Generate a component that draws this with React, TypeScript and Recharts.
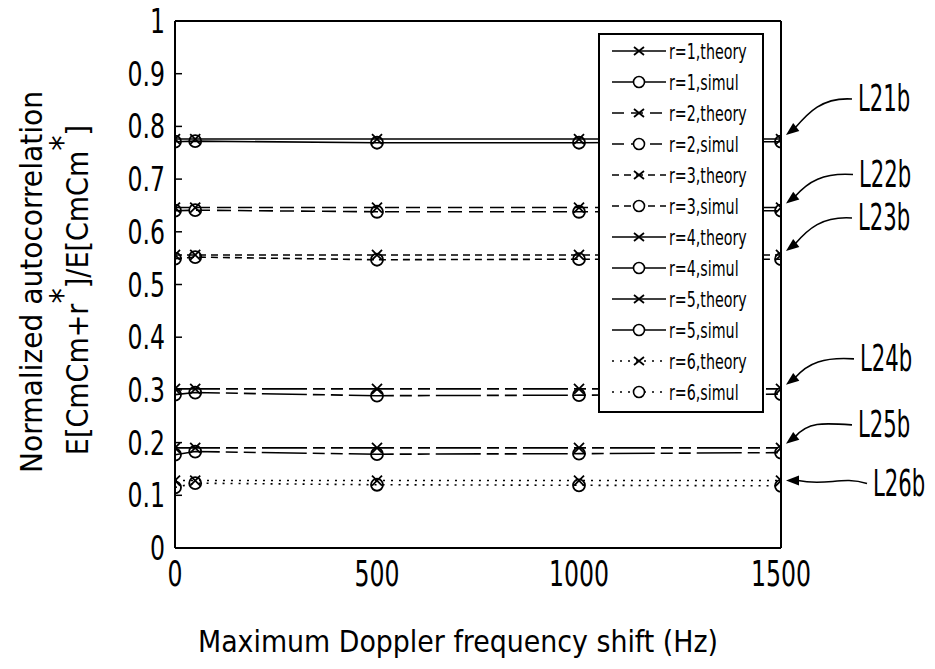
import React from 'react';
import {
  LineChart,
  Line,
  XAxis,
  YAxis,
  ReferenceLine,
  ReferenceDot,
} from 'recharts';

// ---------- data ----------
const freqs = [0, 50, 500, 1000, 1500];
const r1Theory = [0.776, 0.776, 0.776, 0.776, 0.776];
const r1Simul = [0.771, 0.772, 0.769, 0.769, 0.771];
const r2Theory = [0.646, 0.646, 0.646, 0.646, 0.646];
const r2Simul = [0.64, 0.641, 0.638, 0.638, 0.64];
const r3Theory = [0.556, 0.556, 0.556, 0.556, 0.556];
const r3Simul = [0.549, 0.552, 0.547, 0.548, 0.548];
const r4Theory = [0.302, 0.302, 0.302, 0.302, 0.302];
const r4Simul = [0.291, 0.295, 0.289, 0.29, 0.292];
const r5Theory = [0.19, 0.19, 0.19, 0.19, 0.19];
const r5Simul = [0.177, 0.183, 0.178, 0.179, 0.181];
const r6Theory = [0.128, 0.128, 0.128, 0.128, 0.128];
const r6Simul = [0.115, 0.123, 0.12, 0.119, 0.118];

const xTicks = [0, 500, 1000, 1500];
const yTicks = [0, 0.1, 0.2, 0.3, 0.4, 0.5, 0.6, 0.7, 0.8, 0.9, 1];

const seriesNames = [
  'r=1,theory', 'r=1,simul', 'r=2,theory', 'r=2,simul', 'r=3,theory', 'r=3,simul',
  'r=4,theory', 'r=4,simul', 'r=5,theory', 'r=5,simul', 'r=6,theory', 'r=6,simul',
];
const seriesValues = [
  r1Theory, r1Simul, r2Theory, r2Simul, r3Theory, r3Simul,
  r4Theory, r4Simul, r5Theory, r5Simul, r6Theory, r6Simul,
];
const annotationLabels = ['L21b', 'L22b', 'L23b', 'L24b', 'L25b', 'L26b'];
const annotationValues = [r1Theory[4], r2Theory[4], r3Theory[4], r4Theory[4], r5Theory[4], r6Theory[4]];

// ---------- styles ----------
const FONT = "'Liberation Sans Narrow', 'DejaVu Sans Condensed', 'Liberation Sans', 'DejaVu Sans', sans-serif";
const NARROW: React.CSSProperties = { fontStretch: 'condensed' };
const dashes = ['', '', '14 7', '14 7', '7 5', '7 5', '45 6 12 6 12 6', '45 6 12 6 12 6', '45 6 12 6 12 6', '45 6 12 6 12 6', '2 6', '2 6'];
const legendDashes = ['', '', '12 7', '12 7', '7 5', '7 5', '', '', '', '', '2 6', '2 6'];
// label offsets relative to the pointed-at point (text start dx, text center dy)
const annDx = [77, 78, 77, 79, 77, 92];
const annDy = [-42, -35, -39, -32, -25, 1];

const data = freqs.map((f, i) => {
  const row: Record<string, number> = { f };
  seriesNames.forEach((n, k) => { row[n] = seriesValues[k][i]; });
  return row;
});

const numLen = (s: string, digit: number) =>
  s.split('').reduce((a, c) => a + (c === '.' ? digit * 0.5 : digit), 0);

const XMark = (props: any) => {
  const { cx, cy } = props;
  if (cx == null || cy == null) return null;
  const s = 5;
  return (
    <path d={`M${cx - s},${cy - s}L${cx + s},${cy + s}M${cx - s},${cy + s}L${cx + s},${cy - s}`} stroke="#000" strokeWidth={1.8} fill="none" />
  );
};
const OMark = (props: any) => {
  const { cx, cy } = props;
  if (cx == null || cy == null) return null;
  return <circle cx={cx} cy={cy} r={6} stroke="#000" strokeWidth={1.8} fill="none" />;
};

const LegendBox = () => (
  <div style={{ position: 'absolute', left: 598, top: 33, width: 166, height: 380, border: '2px solid #000', background: '#fff', boxSizing: 'border-box' }}>
    <svg width={162} height={376} style={{ display: 'block' }}>
      {seriesNames.map((n, i) => {
        const y = 16 + i * 31;
        const theory = i % 2 === 0;
        return (
          <g key={n}>
            <line x1={12} x2={66} y1={y} y2={y} stroke="#000" strokeWidth={1.6} strokeDasharray={legendDashes[i] || undefined} />
            {theory ? (
              <path d={`M${34},${y - 4}L${44},${y + 4}M${34},${y + 4}L${44},${y - 4}`} stroke="#000" strokeWidth={1.8} />
            ) : (
              <circle cx={39} cy={y} r={5.5} stroke="#000" strokeWidth={1.6} fill="#fff" />
            )}
            <text transform={`translate(69,${y + 8}) scale(0.72,1)`} fontFamily={FONT} fontSize={22} fill="#000" style={NARROW}>{n}</text>
          </g>
        );
      })}
    </svg>
  </div>
);

const makeAnnotation = (k: number) => (props: any) => {
  const { cx, cy } = props;
  if (cx == null || cy == null) return null;
  const tx = cx + annDx[k];
  const ty = cy + annDy[k];
  const ex = cx + 5;
  const ey = k === 5 ? cy : cy - 4;
  const sx = tx - 6;
  const sy = ty + 2;
  const hx = ex + (k === 5 ? 12 : 9);
  const hy = k === 5 ? ey : ey - 7;
  const d = k === 5
    ? `M${sx},${sy} C${sx - 25},${sy - 8} ${sx - 40},${ey + 6} ${hx},${hy}`
    : `M${sx},${sy} C${sx - 30},${sy - 2} ${ex + 22},${ey - 22} ${hx},${hy}`;
  const ang = Math.atan2(ey - hy, ex - hx);
  const L = 13, W = 5;
  const bx = ex - Math.cos(ang) * L;
  const by = ey - Math.sin(ang) * L;
  const px = -Math.sin(ang) * W;
  const py = Math.cos(ang) * W;
  return (
    <g>
      <path d={d} stroke="#000" strokeWidth={1.6} fill="none" />
      <path d={`M${ex},${ey}L${bx + px},${by + py}L${bx - px},${by - py}Z`} fill="#000" />
      <text transform={`translate(${tx},${ty + 14}) scale(0.62,1)`} fontFamily={FONT} fontSize={38} fill="#000" style={NARROW}>{annotationLabels[k]}</text>
    </g>
  );
};

const YTitle = () => {
  const cyMid = 282;
  return (
    <g>
      <text transform={`translate(42,${cyMid}) rotate(-90)`} textAnchor="middle" fontFamily={FONT} fontSize={30} fill="#000" style={NARROW} textLength={382} lengthAdjust="spacingAndGlyphs">Normalized autocorrelation</text>
      <text transform={`translate(88,${cyMid + 8}) rotate(-90)`} textAnchor="middle" fontFamily={FONT} fontSize={30} fill="#000" style={NARROW}>
        <tspan>E[CmCm+r</tspan><tspan dy={-14} fontSize={34}>*</tspan><tspan dy={14}>]/E[CmCm</tspan><tspan dy={-14} fontSize={34}>*</tspan><tspan dy={14}>]</tspan>
      </text>
    </g>
  );
};

const YTick = (props: any) => {
  const { x, y, payload } = props;
  const s = String(payload.value);
  return (
    <text x={x} y={y + 12} textAnchor="end" fontFamily={FONT} fontSize={34} fill="#000" style={NARROW} textLength={numLen(s, 15)} lengthAdjust="spacingAndGlyphs">
      {s}
    </text>
  );
};
const XTick = (props: any) => {
  const { x, y, payload } = props;
  const s = String(payload.value);
  return (
    <text x={x} y={y + 30} textAnchor="middle" fontFamily={FONT} fontSize={36} fill="#000" style={NARROW} textLength={numLen(s, 15)} lengthAdjust="spacingAndGlyphs">
      {s}
    </text>
  );
};
const XTitle = (props: any) => {
  const vb = props.viewBox || {};
  return (
    <text x={vb.x + vb.width / 2 - 20} y={vb.y + 104} textAnchor="middle" fontFamily={FONT} fontSize={30} fill="#000" style={NARROW} textLength={520} lengthAdjust="spacingAndGlyphs">
      Maximum Doppler frequency shift (Hz)
    </text>
  );
};

export default function App() {
  return (
    <div style={{ position: 'absolute', left: 0, top: 0, width: 935, height: 669, background: '#fff' }}>
      <LineChart width={935} height={669} data={data} margin={{ top: 21, right: 154, bottom: 0, left: 0 }}>
        <XAxis
          dataKey="f"
          type="number"
          domain={[0, 1500]}
          ticks={xTicks}
          interval={0}
          tickLine={false}
          axisLine={{ stroke: '#000', strokeWidth: 2 }}
          tick={<XTick />}
          height={121}
          label={<XTitle />}
          allowDataOverflow
        />
        <YAxis
          type="number"
          domain={[0, 1]}
          ticks={yTicks}
          interval={0}
          width={175}
          tickSize={-7}
          tickMargin={17}
          tickLine={{ stroke: '#000', strokeWidth: 1.5 }}
          axisLine={{ stroke: '#000', strokeWidth: 2 }}
          tick={<YTick />}
          label={<YTitle />}
        />
        <ReferenceLine y={1} stroke="#000" strokeWidth={2} />
        <ReferenceLine x={1500} stroke="#000" strokeWidth={2} />
        {seriesNames.map((n, i) => (
          <Line
            key={n}
            dataKey={n}
            name={n}
            stroke="#000"
            strokeWidth={1.6}
            strokeDasharray={dashes[i] || undefined}
            dot={i % 2 === 0 ? <XMark /> : <OMark />}
            activeDot={false}
            isAnimationActive={false}
          />
        ))}
        {annotationValues.map((v, k) => (
          <ReferenceDot key={k} x={1500} y={v} r={0} shape={makeAnnotation(k)} ifOverflow="visible" />
        ))}
      </LineChart>
      <LegendBox />
    </div>
  );
}
